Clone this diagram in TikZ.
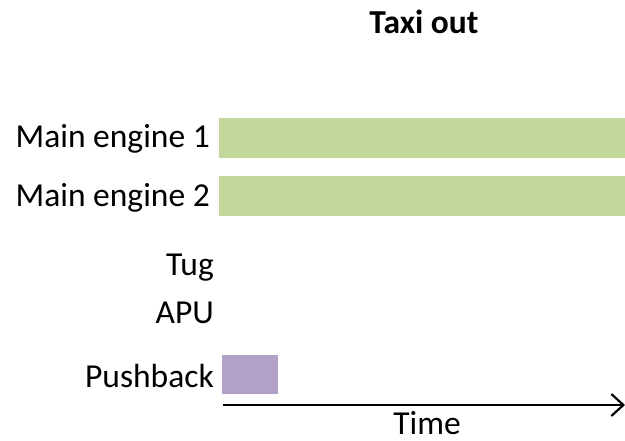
\documentclass[tikz,border=0pt]{standalone}
\usepackage{fontspec}
\setmainfont{Carlito}
\usepackage{tikz}
\usetikzlibrary{arrows.meta}
\definecolor{engine}{RGB}{196,215,155}
\definecolor{push}{RGB}{177,160,199}
\tikzset{
  lbl/.style={anchor=base east,inner sep=0pt,font=\fontsize{33.5}{40}\selectfont},
  bar/.style={anchor=north west,inner sep=0pt,outer sep=0pt,draw=none},
}

\begin{document}
\begin{tikzpicture}[x=1pt,y=-1pt]
\useasboundingbox (0,0) rectangle (625,440);
%%%%%%%%%%%%%%%%%%%%%%%%%%%%%%%%
%% title
%%%%%%%%%%%%%%%%%%%%%%%%%%%%%%%%
\node[anchor=base,inner sep=0pt,font=\fontsize{33.5}{40}\selectfont\bfseries] (title) at (424,33) {Taxi out};
%%%%%%%%%%%%%%%%%%%%%%%%%%%%%%%%
%% row labels
%%%%%%%%%%%%%%%%%%%%%%%%%%%%%%%%
\node[lbl] (me1)  at (210,147) {Main engine 1};
\node[lbl] (me2)  at (210,206) {Main engine 2};
\node[lbl] (tug)  at (214,275) {Tug};
\node[lbl] (apu)  at (214,323) {APU};
\node[lbl] (push) at (214,387) {Pushback};
%%%%%%%%%%%%%%%%%%%%%%%%%%%%%%%%
%% bars
%%%%%%%%%%%%%%%%%%%%%%%%%%%%%%%%
\node[bar,fill=engine,minimum width=406pt,minimum height=40pt] (bar1) at (219,118) {};
\node[bar,fill=engine,minimum width=406pt,minimum height=40pt] (bar2) at (219,176) {};
\node[bar,fill=push,minimum width=56pt,minimum height=39pt] (barp) at (222,355) {};
%%%%%%%%%%%%%%%%%%%%%%%%%%%%%%%%
%% time axis
%%%%%%%%%%%%%%%%%%%%%%%%%%%%%%%%
\coordinate (t0) at (223,405);
\coordinate (t1) at (625,405);
\draw[line width=2.2pt,-{Straight Barb[length=12pt,width=22pt,line width=2.2pt]}] (t0) -- (t1);
\node[anchor=base,inner sep=0pt,font=\fontsize{33.5}{40}\selectfont] (time) at (427,434) {Time};
\end{tikzpicture}
\end{document}
